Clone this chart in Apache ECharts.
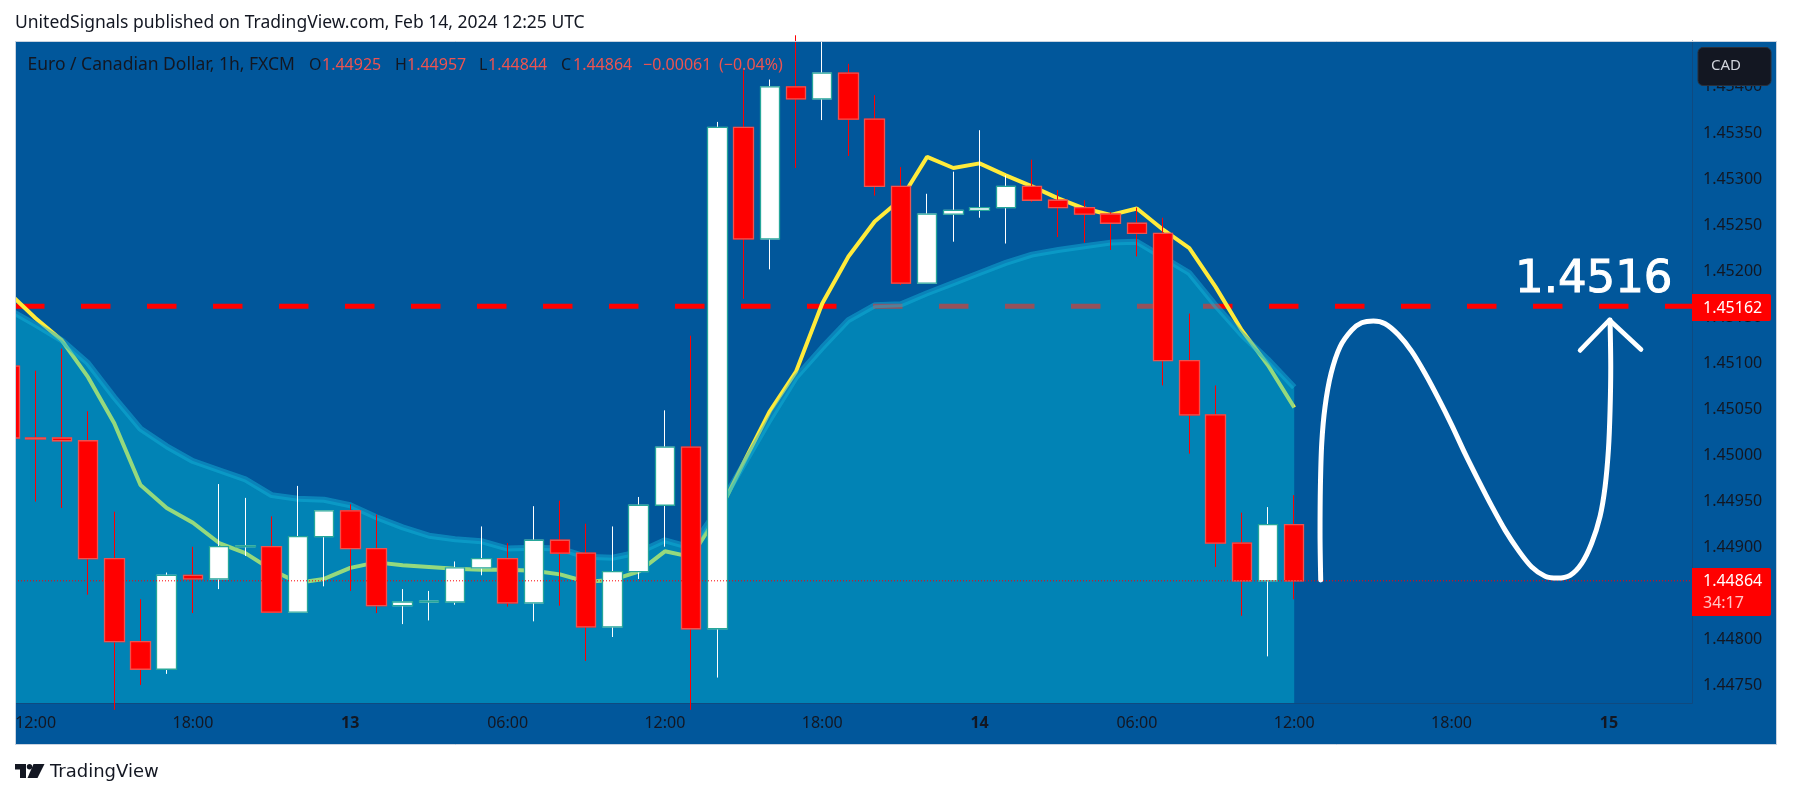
<!DOCTYPE html>
<html><head><meta charset="utf-8">
<style>html,body{margin:0;padding:0;background:#fff}#c{width:1793px;height:798px}</style>
<script src="https://cdn.jsdelivr.net/npm/echarts@6/dist/echarts.min.js"></script>
</head><body><div id="c"></div>
<script>
// hours since Feb 12 12:00
const hours = [-1,0,1,2,3,4,5,6,7,8,9,10,11,12,13,14,15,16,17,18,19,20,21,22,23,24,25,26,27,28,29,30,31,32,33,34,35,36,37,38,39,40,41,42,43,44,45,46,47,48];
const opens = [1.45097,1.45019,1.45019,1.45016,1.44888,1.44798,1.44768,1.44870,1.44866,1.44901,1.44901,1.44830,1.44912,1.44940,1.44899,1.44837,1.44841,1.44841,1.44878,1.44888,1.44840,1.44908,1.44894,1.44814,1.44874,1.44946,1.45009,1.44812,1.45356,1.45235,1.45400,1.45387,1.45415,1.45365,1.45292,1.45187,1.45262,1.45266,1.45269,1.45292,1.45277,1.45269,1.45262,1.45252,1.45241,1.45103,1.45044,1.44905,1.44864,1.44925];
const closes = [1.45019,1.45018,1.45016,1.44888,1.44798,1.44768,1.44870,1.44866,1.44901,1.44902,1.44830,1.44912,1.44940,1.44899,1.44837,1.44841,1.44842,1.44878,1.44888,1.44840,1.44908,1.44894,1.44814,1.44874,1.44946,1.45009,1.44812,1.45356,1.45235,1.45400,1.45387,1.45415,1.45365,1.45292,1.45187,1.45262,1.45266,1.45269,1.45292,1.45277,1.45269,1.45262,1.45252,1.45241,1.45103,1.45044,1.44905,1.44864,1.44925,1.44864];
const lows = [1.44960,1.44950,1.44943,1.44849,1.44724,1.44751,1.44763,1.44829,1.44855,1.44891,1.44830,1.44830,1.44858,1.44853,1.44829,1.44817,1.44821,1.44838,1.44870,1.44836,1.44820,1.44837,1.44777,1.44803,1.44866,1.44901,1.44724,1.44759,1.45170,1.45202,1.45312,1.45364,1.45325,1.45282,1.45185,1.45187,1.45232,1.45258,1.45230,1.45275,1.45237,1.45231,1.45223,1.45216,1.45076,1.45002,1.44879,1.44826,1.44782,1.44844];
const highs = [1.45110,1.45092,1.45116,1.45048,1.44939,1.44844,1.44873,1.44901,1.44969,1.44954,1.44934,1.44967,1.44940,1.44947,1.44936,1.44855,1.44853,1.44885,1.44923,1.44905,1.44945,1.44951,1.44926,1.44923,1.44955,1.45049,1.45130,1.45362,1.45418,1.45408,1.45456,1.45456,1.45425,1.45391,1.45313,1.45284,1.45308,1.45353,1.45304,1.45321,1.45288,1.45277,1.45264,1.45269,1.45258,1.45154,1.45076,1.44938,1.44944,1.44957];
const fastMA = [1.45176,1.45149,1.45125,1.45085,1.45035,1.44968,1.44943,1.44927,1.44905,1.44894,1.44876,1.44862,1.44866,1.44878,1.44884,1.44881,1.44879,1.44877,1.44876,1.44876,1.44875,1.44871,1.44863,1.44865,1.44874,1.44896,1.44890,1.44935,1.44992,1.45048,1.45091,1.45165,1.45216,1.45254,1.45278,1.45324,1.45312,1.45317,1.45304,1.45292,1.45279,1.45268,1.45261,1.45268,1.45245,1.45225,1.45183,1.45136,1.45098,1.45052];
const slowMA = [1.45158,1.45142,1.45125,1.45100,1.45063,1.45029,1.45010,1.44994,1.44984,1.44974,1.44957,1.44953,1.44952,1.44946,1.44933,1.44922,1.44913,1.44909,1.44907,1.44899,1.44900,1.44899,1.44890,1.44889,1.44895,1.44908,1.44900,1.44941,1.44990,1.45039,1.45085,1.45117,1.45147,1.45163,1.45164,1.45176,1.45187,1.45198,1.45209,1.45218,1.45223,1.45227,1.45231,1.45232,1.45215,1.45198,1.45163,1.45131,1.45104,1.45074];
const targetPrice = 1.45162;
const lastPrice = 1.44864;
const xTickHours = [0,6,12,18,24,30,36,42,48,54,60];
const xTickLabels = ['12:00','18:00','13','06:00','12:00','18:00','14','06:00','12:00','18:00','15'];
const yTicks = [1.4475,1.448,1.4485,1.449,1.4495,1.45,1.4505,1.451,1.4515,1.452,1.4525,1.453,1.4535,1.454];
const sketchHours = [49.01,48.985,48.998,49.049,49.176,49.405,49.748,50.193,50.574,51.019,51.464,51.973,52.481,52.990,53.498,54.007,54.515,55.024,55.533,56.041,56.550,57.058,57.567,58.037,58.520,58.965,59.346,59.664,59.855,59.982,60.045,60.071,60.045];
const sketchPrices = [1.44865,1.44916,1.44966,1.45013,1.45053,1.45089,1.45118,1.45136,1.45144,1.45146,1.45143,1.45131,1.45113,1.45089,1.45062,1.45033,1.45002,1.44973,1.44945,1.44919,1.44897,1.44879,1.44869,1.44867,1.44870,1.44883,1.44905,1.44934,1.44966,1.45006,1.45049,1.45096,1.45147];
const arrowHours = [58.901,60.020,61.228];
const arrowPrices = [1.45114,1.45147,1.45115];

const F = '"Noto Sans", "Liberation Sans", sans-serif';
const xMin = -0.7857, xMax = 63.17, yMin = 1.447314, yMax = 1.454498;
const RED = '#ff0000', SOFT = '#ef5350', TEAL = '#26a69a', INK = '#131722';
const pair = (a, b) => a.map((v, i) => [v, b[i]]);
const wickData = hours.map((h, i) => [h, opens[i], closes[i], lows[i], highs[i]]);
const bodyData = hours.map((h, i) => [h, opens[i], closes[i], Math.min(opens[i], closes[i]), Math.max(opens[i], closes[i])]);
const txt = (x, y, t, fill, font, extra) => ({type:'text', z:100, x, y, silent:true,
  style:Object.assign({text:t, fill, font:font || ('16px ' + F), align:'left', verticalAlign:'middle'}, extra || {})});
const WIDE = '17.5px ' + F;

const chart = echarts.init(document.getElementById('c'), null, {renderer:'canvas'});
chart.setOption({
  animation:false, backgroundColor:'#ffffff',
  grid:{left:15, top:41, width:1677, height:662, containLabel:false, show:false},
  xAxis:{type:'value', min:xMin, max:xMax, splitLine:{show:false},
    axisLine:{show:true, onZero:false, lineStyle:{color:'#0f4a80', width:1}}, axisTick:{show:false},
    axisLabel:{customValues:xTickHours, margin:12, color:INK, fontFamily:F, fontSize:16,
      formatter:v => { const l = xTickLabels[xTickHours.indexOf(v)]; return l.length < 3 ? '{b|'+l+'}' : l; },
      rich:{b:{fontFamily:F, fontSize:16, fontWeight:'bold', color:INK}}}},
  yAxis:{type:'value', position:'right', min:yMin, max:yMax, splitLine:{show:false}, scale:true,
    axisLine:{show:true, onZero:false, lineStyle:{color:'#0f4a80', width:1}}, axisTick:{show:false},
    axisLabel:{customValues:yTicks, margin:11, padding:[4,0,0,0], color:INK, fontFamily:F, fontSize:16, formatter:v => v.toFixed(5)}},
  graphic:{elements:[
    {type:'rect', z:-10, silent:true, shape:{x:15.5, y:41.5, width:1761, height:703}, style:{fill:'#01579b'}},
    {type:'rect', z:90, silent:true, shape:{x:0, y:30, width:15, height:730}, style:{fill:'#ffffff'}},
    {type:'rect', z:95, silent:true, shape:{x:15.5, y:41.5, width:1761, height:703}, style:{fill:'none', stroke:'#c9d3e0', lineWidth:1}},
    txt(15, 23, 'UnitedSignals published on TradingView.com, Feb 14, 2024 12:25 UTC', INK, WIDE),
    txt(27.5, 65, 'Euro / Canadian Dollar, 1h, FXCM', INK, WIDE),
    txt(309, 65, 'O', INK), txt(322, 65, '1.44925', SOFT),
    txt(395, 65, 'H', INK), txt(407, 65, '1.44957', SOFT),
    txt(479, 65, 'L', INK), txt(488, 65, '1.44844', SOFT),
    txt(561, 65, 'C', INK), txt(573, 65, '1.44864', SOFT),
    txt(643, 65, '\u22120.00061', SOFT), txt(719, 65, '(\u22120.04%)', SOFT),
    {type:'rect', z:100, silent:true, shape:{x:1698, y:47.5, width:73, height:38, r:5}, style:{fill:'#131722', stroke:'#2a2e39', lineWidth:1}},
    txt(1711, 66, 'CAD', '#d1d4dc', '15px ' + F),
    {type:'rect', z:100, silent:true, shape:{x:1692, y:294, width:79, height:27, r:[0,2,2,0]}, style:{fill:RED}},
    txt(1703, 308, '1.45162', '#ffffff'),
    {type:'rect', z:100, silent:true, shape:{x:1692, y:568, width:79, height:48, r:[0,2,2,0]}, style:{fill:RED}},
    txt(1703, 581, '1.44864', '#ffffff'),
    txt(1703, 603, '34:17', '#ffc4c4'),
    txt(1515, 280, '1.4516', '#ffffff', '45px "DejaVu Sans", sans-serif', {stroke:'#ffffff', lineWidth:1}),
    {type:'polygon', z:100, silent:true, shape:{points:[[15,764],[26,764],[26,778],[20,778],[20,769.5],[15,769.5]]}, style:{fill:INK}},
    {type:'circle', z:100, silent:true, shape:{cx:29.5, cy:766.8, r:2.7}, style:{fill:INK}},
    {type:'polygon', z:100, silent:true, shape:{points:[[33.5,764],[44.5,764],[37.5,778],[27.5,778]]}, style:{fill:INK}},
    txt(50, 772, 'TradingView', INK, '18px "DejaVu Sans", sans-serif')
  ]},
  series:[
    {type:'line', name:'Target', z:1, silent:true, symbol:'none', data:[[xMin,targetPrice],[xMax,targetPrice]],
      lineStyle:{color:RED, width:5, type:[29.5,36.5], cap:'butt'}},
    {type:'line', name:'Fast MA', z:2, silent:true, symbol:'none', data:pair(hours, fastMA),
      lineStyle:{color:'#ffeb3b', width:4}},
    {type:'line', name:'Slow MA', z:3, silent:true, symbol:'none', data:pair(hours, slowMA),
      lineStyle:{color:'rgba(20,175,215,0.5)', width:6},
      areaStyle:{color:'rgba(3,194,217,0.42)', origin:'start', opacity:1}},
    {type:'candlestick', name:'Wicks', z:4, silent:true, barWidth:20, data:wickData,
      itemStyle:{color:'#ffffff', color0:RED, borderColor:'#ffffff', borderColor0:RED, borderWidth:1}},
    {type:'candlestick', name:'Bodies', z:5, silent:true, barWidth:20, data:bodyData,
      itemStyle:{color:'#ffffff', color0:RED, borderColor:TEAL, borderColor0:SOFT, borderWidth:1.3}},
    {type:'line', name:'Last', z:6, silent:true, symbol:'none', data:[[xMin,lastPrice],[xMax,lastPrice]],
      lineStyle:{color:RED, width:1, type:[1,2]}},
    {type:'line', name:'Sketch', z:7, silent:true, symbol:'none', smooth:0.3, data:pair(sketchHours, sketchPrices),
      lineStyle:{color:'#ffffff', width:5, cap:'round', join:'round'}},
    {type:'line', name:'Arrow', z:7, silent:true, symbol:'none', data:pair(arrowHours, arrowPrices),
      lineStyle:{color:'#ffffff', width:4.6, cap:'round', join:'round'}}
  ]
});
</script></body></html>
